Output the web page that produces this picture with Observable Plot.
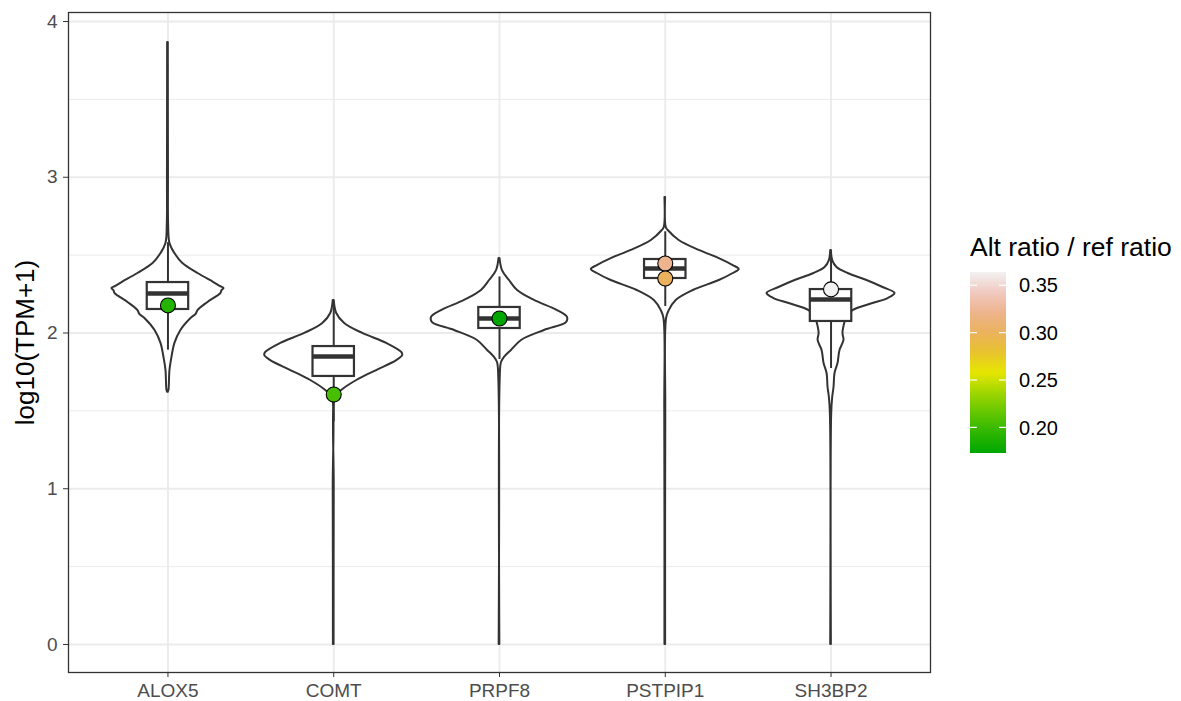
<!DOCTYPE html>
<html><head><meta charset="utf-8">
<script src="https://cdn.jsdelivr.net/npm/d3@7"></script>
<script src="https://cdn.jsdelivr.net/npm/@observablehq/plot@0.6"></script>
<style>body{margin:0;background:#fff}</style>
</head><body><div id="chart"></div>
<script>
// ---- data ----
const genes = ["ALOX5", "COMT", "PRPF8", "PSTPIP1", "SH3BP2"];

// violin outlines: [log10(TPM+1), half-width in category units]
const violinALOX5 = [[3.865,0.002],[3.0,0.003],[2.70,0.004],[2.575,0.012],[2.510,0.042],[2.446,0.090],[2.382,0.181],[2.324,0.277],[2.300,0.315],[2.286,0.338],[2.270,0.325],[2.254,0.320],[2.196,0.241],[2.144,0.181],[2.120,0.170],[2.093,0.139],[2.016,0.078],[1.933,0.042],[1.843,0.024],[1.760,0.012],[1.632,0.006],[1.62,0.002]];
const violinCOMT = [[2.209,0.003],[2.125,0.018],[2.061,0.066],[1.997,0.175],[1.933,0.320],[1.875,0.410],[1.855,0.416],[1.823,0.380],[1.759,0.259],[1.695,0.139],[1.631,0.048],[1.599,0.018],[1.58,0.006],[1.0,0.003],[0,0.002]];
const violinPRPF8 = [[2.478,0.003],[2.401,0.018],[2.337,0.060],[2.273,0.109],[2.209,0.211],[2.144,0.350],[2.100,0.410],[2.067,0.404],[2.016,0.271],[1.952,0.133],[1.888,0.072],[1.843,0.030],[1.811,0.012],[1.7,0.004],[0,0.002]];
const violinPSTPIP1 = [[2.870,0.002],[2.677,0.006],[2.658,0.018],[2.594,0.084],[2.530,0.205],[2.478,0.326],[2.433,0.410],[2.408,0.446],[2.382,0.410],[2.337,0.326],[2.273,0.169],[2.209,0.066],[2.144,0.024],[2.093,0.008],[1.5,0.003],[0,0.002]];
const violinSH3BP2 = [[2.530,0.002],[2.465,0.010],[2.421,0.036],[2.382,0.103],[2.337,0.217],[2.292,0.314],[2.254,0.386],[2.221,0.344],[2.189,0.253],[2.144,0.133],[2.106,0.097],[2.067,0.084],[1.997,0.072],[1.952,0.078],[1.888,0.054],[1.804,0.042],[1.740,0.024],[1.650,0.018],[1.586,0.010],[1.483,0.004],[0,0.002]];
const violins = [violinALOX5, violinCOMT, violinPRPF8, violinPSTPIP1, violinSH3BP2];

// boxplot statistics
const boxLow  = [1.89, 1.43, 1.83, 2.17, 1.772];
const boxQ1   = [2.151, 1.721, 2.029, 2.35, 2.074];
const boxMed  = [2.254, 1.849, 2.093, 2.414, 2.215];
const boxQ3   = [2.324, 1.913, 2.164, 2.472, 2.279];
const boxHigh = [2.58, 2.20, 2.36, 2.65, 2.53];

// highlighted points
const pointGene  = ["ALOX5", "COMT", "PRPF8", "PSTPIP1", "PSTPIP1", "SH3BP2"];
const pointValue = [2.177, 1.605, 2.093, 2.446, 2.35, 2.28];
const pointRatio = [0.19, 0.205, 0.173, 0.322, 0.300, 0.364];

const yTicks = [0, 1, 2, 3, 4];
const yMinor = [0.5, 1.5, 2.5, 3.5];
const legendTicks = [0.20, 0.25, 0.30, 0.35];
const ratioDomain = [0.173, 0.364];
const terrain = ["#00A600","#2DB600","#63C600","#A0D600","#E6E600","#E8C32E","#EBB25E","#EDB48E","#F0C9C0","#F2F2F2"];

// ---- tables ----
const violinRows = genes.flatMap((g, i) => violins[i].map(([y, w]) => ({gene: g, i, y, w})));
const boxRows = genes.map((g, i) => ({gene: g, i, lo: boxLow[i], q1: boxQ1[i], med: boxMed[i], q3: boxQ3[i], hi: boxHigh[i]}));
const pointRows = pointGene.map((g, k) => ({i: genes.indexOf(g), v: pointValue[k], r: pointRatio[k]}));

const interp = d3.piecewise(d3.interpolateRgb, terrain);
const FONT = "'Liberation Sans', Arial, Helvetica, sans-serif";
const BW = 0.125;

const plot = Plot.plot({
  width: 1181, height: 701,
  marginLeft: 68, marginRight: 251, marginTop: 12, marginBottom: 29,
  style: {fontFamily: FONT, fontSize: "19px", background: "white", overflow: "visible"},
  x: {type: "linear", domain: [-0.6, 4.6], axis: null},
  y: {domain: [-0.1798, 4.0578], axis: null},
  color: {type: "linear", domain: ratioDomain, interpolate: interp},
  marks: [
    Plot.gridY(yMinor, {stroke: "#EBEBEB", strokeOpacity: 1, strokeWidth: 1}),
    Plot.gridY(yTicks, {stroke: "#EBEBEB", strokeOpacity: 1, strokeWidth: 1.8}),
    Plot.gridX([0,1,2,3,4], {stroke: "#EBEBEB", strokeOpacity: 1, strokeWidth: 1.8}),
    Plot.areaX(violinRows, {y: "y", x1: d => d.i - d.w, x2: d => d.i + d.w, z: "gene",
      fill: "white", stroke: "#333333", strokeWidth: 2, curve: "catmull-rom", strokeLinejoin: "round"}),
    Plot.ruleX(boxRows, {x: "i", y1: "q3", y2: "hi", stroke: "#333333", strokeWidth: 2}),
    Plot.ruleX(boxRows, {x: "i", y1: "lo", y2: "q1", stroke: "#333333", strokeWidth: 2}),
    Plot.rect(boxRows, {x1: d => d.i - BW, x2: d => d.i + BW, y1: "q1", y2: "q3",
      fill: "white", stroke: "#333333", strokeWidth: 2.2}),
    Plot.ruleY(boxRows, {y: "med", x1: d => d.i - BW, x2: d => d.i + BW, stroke: "#333333", strokeWidth: 4.4}),
    Plot.dot(pointRows, {x: "i", y: "v", fill: "r", r: 7.5, stroke: "black", strokeWidth: 1.1}),
    Plot.frame({stroke: "#333333", strokeWidth: 1.3}),
    Plot.axisY(yTicks, {tickSize: 5, tickPadding: 6, stroke: "#333333", fill: "#4D4D4D", fontSize: 19, label: null, tickFormat: d => d}),
    Plot.axisX([0,1,2,3,4], {tickSize: 5, tickPadding: 6, stroke: "#333333", fill: "#4D4D4D", fontSize: 19, label: null, tickFormat: i => genes[i]}),
    Plot.text(["log10(TPM+1)"], {frameAnchor: "left", dx: -43, rotate: -90, fontSize: 26, fill: "black", textAnchor: "middle"})
  ]
});

// ---- colour legend (vertical bar, ggplot style) ----
const svg = d3.select(plot);
const bx = 970, by0 = 272, by1 = 453, bw = 36;
const ly = d3.scaleLinear().domain(ratioDomain).range([by1, by0]);
const defs = svg.append("defs");
const grad = defs.append("linearGradient").attr("id", "ratioGrad").attr("x1", 0).attr("x2", 0).attr("y1", 1).attr("y2", 0);
d3.range(0, 1.0001, 0.02).forEach(t => grad.append("stop").attr("offset", t).attr("stop-color", interp(t)));
const lg = svg.append("g").attr("font-family", FONT).attr("text-anchor", "start");
lg.append("text").attr("x", bx).attr("y", 256).attr("font-size", 26.5).attr("fill", "black").attr("text-anchor", "start").text("Alt ratio / ref ratio");
lg.append("rect").attr("x", bx).attr("y", by0).attr("width", bw).attr("height", by1 - by0).attr("fill", "url(#ratioGrad)");
legendTicks.forEach(v => {
  const y = ly(v);
  lg.append("line").attr("x1", bx).attr("x2", bx + 7).attr("y1", y).attr("y2", y).attr("stroke", "white").attr("stroke-width", 1.2);
  lg.append("line").attr("x1", bx + bw - 7).attr("x2", bx + bw).attr("y1", y).attr("y2", y).attr("stroke", "white").attr("stroke-width", 1.2);
  lg.append("text").attr("x", 1019).attr("y", y).attr("dy", "0.36em").attr("font-size", 20).attr("fill", "black").attr("text-anchor", "start").text(v.toFixed(2));
});

document.getElementById("chart").appendChild(plot);
</script></body></html>
